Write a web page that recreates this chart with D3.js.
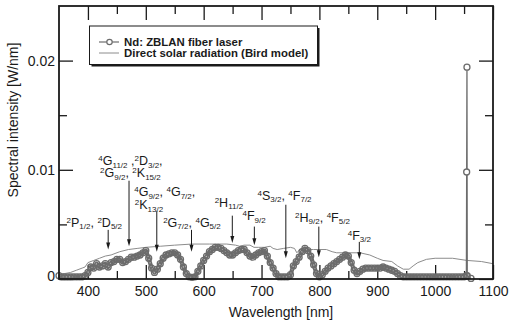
<!DOCTYPE html>
<html><head><meta charset="utf-8">
<script src="https://cdn.jsdelivr.net/npm/d3@7"></script>
<style>body{margin:0;background:#fff} svg{display:block} text{font-family:"Liberation Sans",Arial,Helvetica,sans-serif}</style>
</head><body><svg id="c" width="512" height="326"></svg>
<script>
// ---------- data ----------
const laserSpectrum = [[350,0.0003],[355,0.0002],[360,0.0002],[365,0.0002],[370,0.0002],[375,0.0002],[380,0.0002],[385,0.0002],[390,0.0002],[395,0.0003],[400,0.0006],[405,0.0011],[410,0.0010],[415,0.0014],[420,0.0011],[425,0.0012],[430,0.0014],[435,0.0011],[440,0.0015],[445,0.0016],[450,0.0018],[455,0.0018],[460,0.0015],[465,0.0016],[470,0.0018],[475,0.0020],[480,0.0020],[485,0.0021],[490,0.0022],[495,0.0024],[500,0.0026],[505,0.0019],[510,0.0010],[515,0.0006],[520,0.0009],[525,0.0014],[530,0.0019],[535,0.0022],[540,0.0023],[545,0.0024],[550,0.0024],[555,0.0022],[560,0.0018],[565,0.0011],[570,0.0005],[575,0.0002],[580,0.00015],[585,0.0002],[590,0.0007],[595,0.0012],[600,0.0017],[605,0.0021],[610,0.0025],[615,0.0027],[620,0.0029],[625,0.0029],[630,0.0028],[635,0.0026],[640,0.0024],[645,0.0022],[650,0.0022],[655,0.0024],[660,0.0026],[665,0.0027],[670,0.0027],[675,0.0024],[680,0.0021],[685,0.0020],[690,0.0022],[695,0.0024],[700,0.0025],[705,0.0026],[710,0.0021],[715,0.0015],[720,0.0010],[725,0.0005],[730,0.0002],[735,0.0002],[740,0.0002],[745,0.0002],[750,0.0004],[755,0.0012],[760,0.0016],[765,0.0020],[770,0.0025],[775,0.0028],[780,0.0026],[785,0.0021],[790,0.0013],[795,0.0005],[800,0.0002],[805,0.0004],[810,0.0007],[815,0.0010],[820,0.0012],[825,0.0014],[830,0.0016],[835,0.0018],[840,0.0020],[845,0.0022],[850,0.0021],[855,0.0015],[860,0.0008],[865,0.0005],[870,0.0007],[875,0.0009],[880,0.0010],[885,0.0010],[890,0.0010],[895,0.0010],[900,0.0010],[905,0.0010],[910,0.0011],[915,0.0010],[920,0.0009],[925,0.0008],[930,0.0007],[935,0.0005],[940,0.0003],[945,0.0002],[950,0.0002],[955,0.0002],[960,0.0002],[965,0.0002],[970,0.0002],[975,0.0002],[980,0.0002],[985,0.0002],[990,0.0002],[995,0.0002],[1000,0.0002],[1005,0.0002],[1010,0.0002],[1015,0.0002],[1020,0.0002],[1025,0.0002],[1030,0.0002],[1035,0.0002],[1040,0.0002],[1045,0.0002],[1050,0.0002],[1054,0.0003],[1054.5,0.0098],[1055,0.0194],[1055.5,0.0003],[1062,0.00005]];

const solarSpectrum = [[350,0.0004],[360,0.0005],[370,0.0006],[380,0.0008],[390,0.0010],[395,0.0011],[400,0.0015],[410,0.0017],[420,0.0019],[430,0.0021],[440,0.0022],[455,0.0025],[470,0.0027],[485,0.0028],[500,0.0029],[525,0.0030],[550,0.0031],[580,0.0032],[610,0.0032],[640,0.0032],[655,0.0031],[662,0.0030],[670,0.0031],[680,0.0031],[687,0.0029],[695,0.0029],[705,0.0029],[715,0.0030],[720,0.0028],[727,0.0027],[738,0.0028],[750,0.0029],[757,0.0028],[761,0.0024],[766,0.0027],[790,0.0027],[812,0.0027],[822,0.0025],[830,0.0024],[850,0.0024],[870,0.0024],[887,0.0022],[900,0.0019],[910,0.0017],[925,0.0016],[935,0.0012],[945,0.0009],[955,0.0009],[962,0.0012],[970,0.0015],[985,0.0018],[1000,0.0019],[1030,0.0019],[1055,0.0017],[1080,0.0016],[1100,0.0014]];

const xMajorTicks = [400,500,600,700,800,900,1000,1100];
const xMinorTicks = [450,550,650,750,850,950,1050];
const yMajorTicks = [0,0.01,0.02];
const yMinorTicks = [0.005,0.015];
const yTickLabels = ["0","0.01","0.02"];
const xTitle = "Wavelength [nm]";
const yTitle = "Spectral intensity [W/nm]";
const legendLabels = ["Nd: ZBLAN fiber laser","Direct solar radiation (Bird model)"];

// transition labels: lines of markup (^ = superscript, _ = subscript), anchor [wavelength, intensity]
const transitionText = [
  ["^2P_1/2, ^2D_5/2"],
  ["^4G_11/2 ,^2D_3/2,", "^2G_9/2, ^2K_15/2"],
  ["^4G_9/2, ^4G_7/2,", "^2K_13/2"],
  ["^2G_7/2, ^4G_5/2"],
  ["^2H_11/2"],
  ["^4F_9/2"],
  ["^4S_3/2, ^4F_7/2"],
  ["^2H_9/2, ^4F_5/2"],
  ["^4F_3/2"]
];
const transitionAnchor = [
  [[363,0.0048]],
  [[418,0.0104],[421,0.0093]],
  [[480,0.0076],[481,0.0064]],
  [[530,0.0048]],
  [[619,0.0066]],
  [[667,0.0054]],
  [[693,0.00725]],
  [[758,0.00526]],
  [[849,0.00358]]
];
// arrows: wavelength, start intensity, tip intensity
const arrowWavelength = [435,471,519,579,649.5,687.6,742,799,869];
const arrowStart = [0.0045,0.0090,0.0062,0.0045,0.0058,0.0048,0.0068,0.0048,0.0034];
const arrowTip   = [0.0027,0.0030,0.0025,0.0025,0.0033,0.0031,0.0019,0.0020,0.0018];

// ---------- drawing ----------
const svg = d3.select("#c");
const L=59, R=493, T=6, B=279;
const x = d3.scaleLinear().domain([350,1100]).range([L,R]);
const y = d3.scaleLinear().domain([0,0.025]).range([B,T]);
const ink = "#1a1a1a";
const laserCol = "#6c6c6c", solarCol = "#8c8c8c";

function styleAxis(g){ g.select(".domain").remove(); g.selectAll("line").attr("stroke",ink).attr("stroke-width",1.3); g.selectAll("text").attr("fill",ink).style("font-size","14px").style("font-family","'Liberation Sans',Arial,sans-serif"); }
svg.append("g").attr("transform",`translate(0,${B})`).call(d3.axisBottom(x).tickValues(xMajorTicks).tickSize(-14).tickPadding(7).tickFormat(d3.format("d"))).call(styleAxis);
svg.append("g").attr("transform",`translate(0,${B})`).call(d3.axisBottom(x).tickValues(xMinorTicks).tickSize(-8).tickFormat("")).call(styleAxis);
svg.append("g").attr("transform",`translate(0,${T})`).call(d3.axisTop(x).tickValues(xMajorTicks).tickSize(-14).tickFormat("")).call(styleAxis);
svg.append("g").attr("transform",`translate(0,${T})`).call(d3.axisTop(x).tickValues(xMinorTicks).tickSize(-8).tickFormat("")).call(styleAxis);
const yl = svg.append("g").attr("transform",`translate(${L},0)`).call(d3.axisLeft(y).tickValues(yMajorTicks).tickSize(-14).tickPadding(4).tickFormat((d,i)=>yTickLabels[i])).call(styleAxis);
yl.selectAll("text").filter(d=>d===0).attr("dy","0.1em");
svg.append("g").attr("transform",`translate(${L},0)`).call(d3.axisLeft(y).tickValues(yMinorTicks).tickSize(-8).tickFormat("")).call(styleAxis);
svg.append("g").attr("transform",`translate(${R},0)`).call(d3.axisRight(y).tickValues(yMajorTicks).tickSize(-14).tickFormat("")).call(styleAxis);
svg.append("g").attr("transform",`translate(${R},0)`).call(d3.axisRight(y).tickValues(yMinorTicks).tickSize(-8).tickFormat("")).call(styleAxis);

// solar line
const line = d3.line().x(d=>x(d[0])).y(d=>y(d[1]));
svg.append("path").datum(solarSpectrum).attr("d",line).attr("fill","none").attr("stroke",solarCol).attr("stroke-width",1);

// laser: thin connecting line, plus a dense band of open-circle markers in the broadband region
svg.append("path").datum(laserSpectrum).attr("d",line).attr("fill","none").attr("stroke",laserCol).attr("stroke-width",1.3);
const bandLine = d3.line().defined(d=>d[1]<0.005).x(d=>x(d[0])).y(d=>y(d[1]));
svg.append("path").datum(laserSpectrum.slice(0,-4)).attr("d",bandLine).attr("fill","none").attr("stroke",laserCol).attr("stroke-width",4.2).attr("stroke-linejoin","round");
svg.append("path").datum(laserSpectrum.slice(0,-4)).attr("d",bandLine).attr("fill","none").attr("stroke","#bdbdbd").attr("stroke-width",1.2).attr("stroke-dasharray","1.2,2.2");
svg.append("g").selectAll("circle").data(laserSpectrum).join("circle")
  .attr("cx",d=>x(d[0])).attr("cy",d=>y(d[1])).attr("r",3)
  .attr("fill",d=>d[1]<0.005?"none":"#fff").attr("stroke",laserCol).attr("stroke-width",1.3);

// frame
svg.append("rect").attr("x",L).attr("y",T).attr("width",R-L).attr("height",B-T).attr("fill","none").attr("stroke",ink).attr("stroke-width",1.8);

// axis titles
svg.append("text").attr("x",281).attr("y",317).attr("text-anchor","middle").attr("fill",ink).style("font-size","14px").text(xTitle);
svg.append("text").attr("transform","translate(17.5,120) rotate(-90)").attr("text-anchor","middle").attr("fill",ink).style("font-size","14px").text(yTitle);

// transition labels
function richText(sel, str){
  const re = /(\^[0-9]+)|(_[0-9\/]+)|([^\^_]+)/g; let m; let shift=0;
  while((m=re.exec(str))){
    let t, dy, fs;
    if(m[1]){ t=m[1].slice(1); dy=-4-shift; shift=-4; fs="8px"; }
    else if(m[2]){ t=m[2].slice(1); dy=2.5-shift; shift=2.5; fs="8px"; }
    else { t=m[3]; dy=-shift; shift=0; fs="12.5px"; }
    sel.append("tspan").attr("dy",dy).style("font-size",fs).text(t);
  }
}
transitionText.forEach((lines,i)=>{
  lines.forEach((s,j)=>{
    const a = transitionAnchor[i][j];
    const t = svg.append("text").attr("x",x(a[0])).attr("y",y(a[1])).attr("fill",ink).style("font-size","12.5px");
    richText(t,s);
  });
});
// arrows
arrowWavelength.forEach((w,i)=>{
  const ax=x(w), y0=y(arrowStart[i]), y1=y(arrowTip[i]);
  svg.append("line").attr("x1",ax).attr("x2",ax).attr("y1",y0).attr("y2",y1-5).attr("stroke",ink).attr("stroke-width",1);
  svg.append("path").attr("d",`M${ax-2},${y1-7}L${ax+2},${y1-7}L${ax},${y1}Z`).attr("fill",ink);
});

// legend
const lg = svg.append("g");
lg.append("rect").attr("x",91.5).attr("y",28).attr("width",228).attr("height",38.5).attr("fill",ink);
lg.append("rect").attr("x",89.5).attr("y",26).attr("width",228).attr("height",38.5).attr("fill","#fff").attr("stroke",ink).attr("stroke-width",1);
const ly=[42,53];
lg.append("line").attr("x1",99).attr("x2",119).attr("y1",ly[0]).attr("y2",ly[0]).attr("stroke",laserCol).attr("stroke-width",1.2);
lg.append("circle").attr("cx",109.5).attr("cy",ly[0]).attr("r",2.7).attr("fill","#fff").attr("stroke",laserCol).attr("stroke-width",1.2);
lg.append("line").attr("x1",99).attr("x2",119).attr("y1",ly[1]).attr("y2",ly[1]).attr("stroke",solarCol).attr("stroke-width",1);
legendLabels.forEach((s,i)=>lg.append("text").attr("x",124).attr("y",ly[i]+4).attr("fill",ink).style("font-size","11.4px").style("font-weight","bold").text(s));
</script></body></html>
